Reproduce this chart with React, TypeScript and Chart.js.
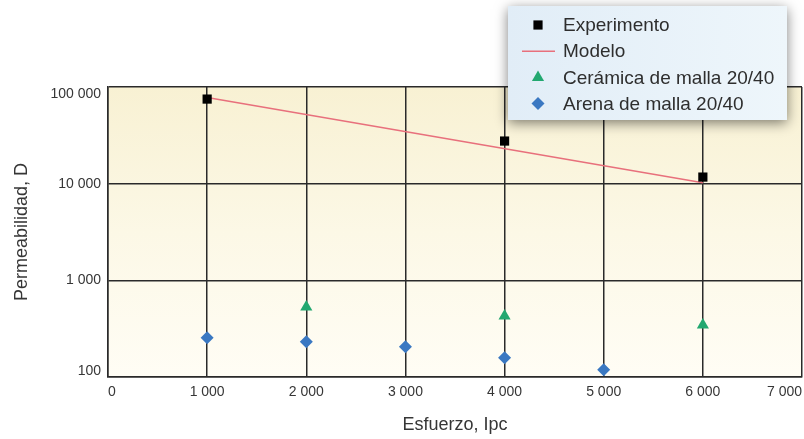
import React, { useEffect, useRef } from 'react';
import { Chart, registerables } from 'chart.js';
import { drawPoint } from 'chart.js/helpers';

Chart.register(...registerables);

// Axis ticks
const stressTicks = [0, 1000, 2000, 3000, 4000, 5000, 6000, 7000];
const permTicks = [100, 1000, 10000, 100000];

// Measured permeability (D) against stress (psi)
const experimentStress = [1000, 4000, 6000];
const experimentPerm = [75000, 27600, 11700];

// Model curve
const modelStress = [1000, 6000];
const modelPerm = [78000, 10200];

// 20/40 ceramic proppant
const ceramicStress = [2000, 4000, 6000];
const ceramicPerm = [530, 428, 346];

// 20/40 sand
const sandStress = [1000, 2000, 3000, 4000, 5000];
const sandPerm = [254, 231, 205, 158, 119];

const FONT = '"Liberation Sans", Arial, sans-serif';
const TEXT = '#363636';
const GRID = '#2a2a2a';
const CANVAS_W = 809;
const CANVAS_H = 439;

const groupThousands = (v: number) =>
  String(Math.round(v)).replace(/\B(?=(\d{3})+(?!\d))/g, ' ');

const toPoints = (xs: number[], ys: number[]) => xs.map((x, i) => ({ x, y: ys[i] }));

// Cream gradient behind the plotting area
const plotBackground = {
  id: 'plotBackground',
  beforeDraw(chart: any) {
    const { ctx, chartArea } = chart;
    const { left, top, right, bottom } = chartArea;
    const g = ctx.createLinearGradient(0, top, 0, bottom);
    g.addColorStop(0, '#f8f1d3');
    g.addColorStop(0.5, '#fcf8e6');
    g.addColorStop(1, '#fffdf5');
    ctx.save();
    ctx.fillStyle = g;
    ctx.fillRect(left, top, right - left, bottom - top);
    ctx.restore();
  },
};

// Permeability labels, kept inside the plot's vertical extent at both ends
const permLabels = {
  id: 'permLabels',
  afterDraw(chart: any) {
    const { ctx, chartArea } = chart;
    const scale = chart.scales.y;
    ctx.save();
    ctx.font = `14px ${FONT}`;
    ctx.fillStyle = TEXT;
    ctx.textAlign = 'right';
    ctx.textBaseline = 'middle';
    permTicks.forEach((v) => {
      const py = scale.getPixelForValue(v);
      const y = Math.min(Math.max(py, chartArea.top + 7), chartArea.bottom - 5.5);
      ctx.fillText(groupThousands(v), scale.right - 7, y);
    });
    ctx.restore();
  },
};

// Legend panel floating over the top right of the chart
const floatingLegend = {
  id: 'floatingLegend',
  afterDraw(chart: any) {
    const { ctx } = chart;
    const box = { x: 508, y: 6, w: 279, h: 114 };
    ctx.save();
    ctx.shadowColor = 'rgba(0,0,0,0.5)';
    ctx.shadowBlur = 12;
    ctx.shadowOffsetX = 0;
    ctx.shadowOffsetY = 3;
    const g = ctx.createLinearGradient(box.x, 0, box.x + box.w, 0);
    g.addColorStop(0, '#e1edf7');
    g.addColorStop(1, '#eef6fb');
    ctx.fillStyle = g;
    ctx.fillRect(box.x, box.y, box.w, box.h);
    ctx.restore();

    ctx.save();
    ctx.font = `19px ${FONT}`;
    ctx.textBaseline = 'middle';
    ctx.textAlign = 'left';
    chart.data.datasets.forEach((ds: any, i: number) => {
      const rowY = 25 + i * 26.2;
      const markX = 538;
      if (ds.type === 'line') {
        ctx.strokeStyle = ds.borderColor;
        ctx.lineWidth = ds.borderWidth;
        ctx.beginPath();
        ctx.moveTo(522, rowY);
        ctx.lineTo(555, rowY);
        ctx.stroke();
      } else {
        ctx.fillStyle = ds.backgroundColor;
        drawPoint(
          ctx,
          { pointStyle: ds.pointStyle, radius: ds.pointRadius, rotation: 0, borderWidth: 0 } as any,
          markX,
          rowY,
        );
      }
      ctx.fillStyle = '#2e2e2e';
      ctx.fillText(ds.label, 563, rowY + 1);
    });
    ctx.restore();
  },
};

export default function App() {
  const canvasRef = useRef<HTMLCanvasElement | null>(null);

  useEffect(() => {
    if (!canvasRef.current) return;
    Chart.defaults.font.family = FONT;

    const chart = new Chart(canvasRef.current, {
      type: 'scatter',
      data: {
        datasets: [
          {
            label: 'Experimento',
            data: toPoints(experimentStress, experimentPerm),
            pointStyle: 'rect',
            pointRadius: 6.5,
            backgroundColor: '#000000',
            borderColor: '#000000',
            borderWidth: 0,
          },
          {
            label: 'Modelo',
            type: 'line',
            data: toPoints(modelStress, modelPerm),
            borderColor: '#e8707c',
            backgroundColor: '#e8707c',
            borderWidth: 1.6,
            pointRadius: 0,
            fill: false,
          },
          {
            label: 'Cerámica de malla 20/40',
            data: toPoints(ceramicStress, ceramicPerm),
            pointStyle: 'triangle',
            pointRadius: 7,
            backgroundColor: '#22a870',
            borderColor: '#22a870',
            borderWidth: 0,
          },
          {
            label: 'Arena de malla 20/40',
            data: toPoints(sandStress, sandPerm),
            pointStyle: 'rectRot',
            pointRadius: 6.5,
            backgroundColor: '#3a78c2',
            borderColor: '#3a78c2',
            borderWidth: 0,
          },
        ] as any,
      },
      options: {
        responsive: false,
        animation: false,
        layout: { padding: { top: 87, right: 2, left: 0, bottom: 0 } },
        plugins: {
          legend: { display: false },
          tooltip: { enabled: false },
        },
        scales: {
          x: {
            type: 'linear',
            min: 0,
            max: 7000,
            afterBuildTicks: (s: any) => {
              s.ticks = stressTicks.map((value) => ({ value }));
            },
            afterFit: (s: any) => {
              s.height = 62;
            },
            grid: { color: GRID, lineWidth: 1.5, drawTicks: false },
            border: { color: GRID, width: 1.5 },
            ticks: {
              padding: 7,
              color: TEXT,
              font: { size: 14 },
              maxRotation: 0,
              autoSkip: false,
              align: 'inner',
              callback: (v: any) => groupThousands(Number(v)),
            },
            title: {
              display: true,
              text: 'Esfuerzo, Ipc',
              color: TEXT,
              font: { size: 18 },
              padding: { top: 0, bottom: 3 },
            },
          },
          y: {
            type: 'logarithmic',
            min: 100,
            max: 100000,
            afterBuildTicks: (s: any) => {
              s.ticks = permTicks.map((value) => ({ value, major: true }));
            },
            afterFit: (s: any) => {
              s.width = 108;
            },
            grid: { color: GRID, lineWidth: 1.5, drawTicks: false },
            border: { color: GRID, width: 1.5 },
            ticks: {
              padding: 7,
              color: 'rgba(0,0,0,0)',
              font: { size: 14 },
              autoSkip: false,
              callback: (v: any) => groupThousands(Number(v)),
            },
            title: {
              display: true,
              text: 'Permeabilidad, D',
              color: TEXT,
              font: { size: 18 },
              padding: { top: 11, bottom: 0 },
            },
          },
        },
      } as any,
      plugins: [plotBackground, permLabels, floatingLegend],
    });

    return () => chart.destroy();
  }, []);

  return (
    <div style={{ position: 'fixed', left: 0, top: 0, width: CANVAS_W, height: CANVAS_H, background: '#ffffff' }}>
      <canvas ref={canvasRef} width={CANVAS_W} height={CANVAS_H} style={{ display: 'block' }} />
    </div>
  );
}
